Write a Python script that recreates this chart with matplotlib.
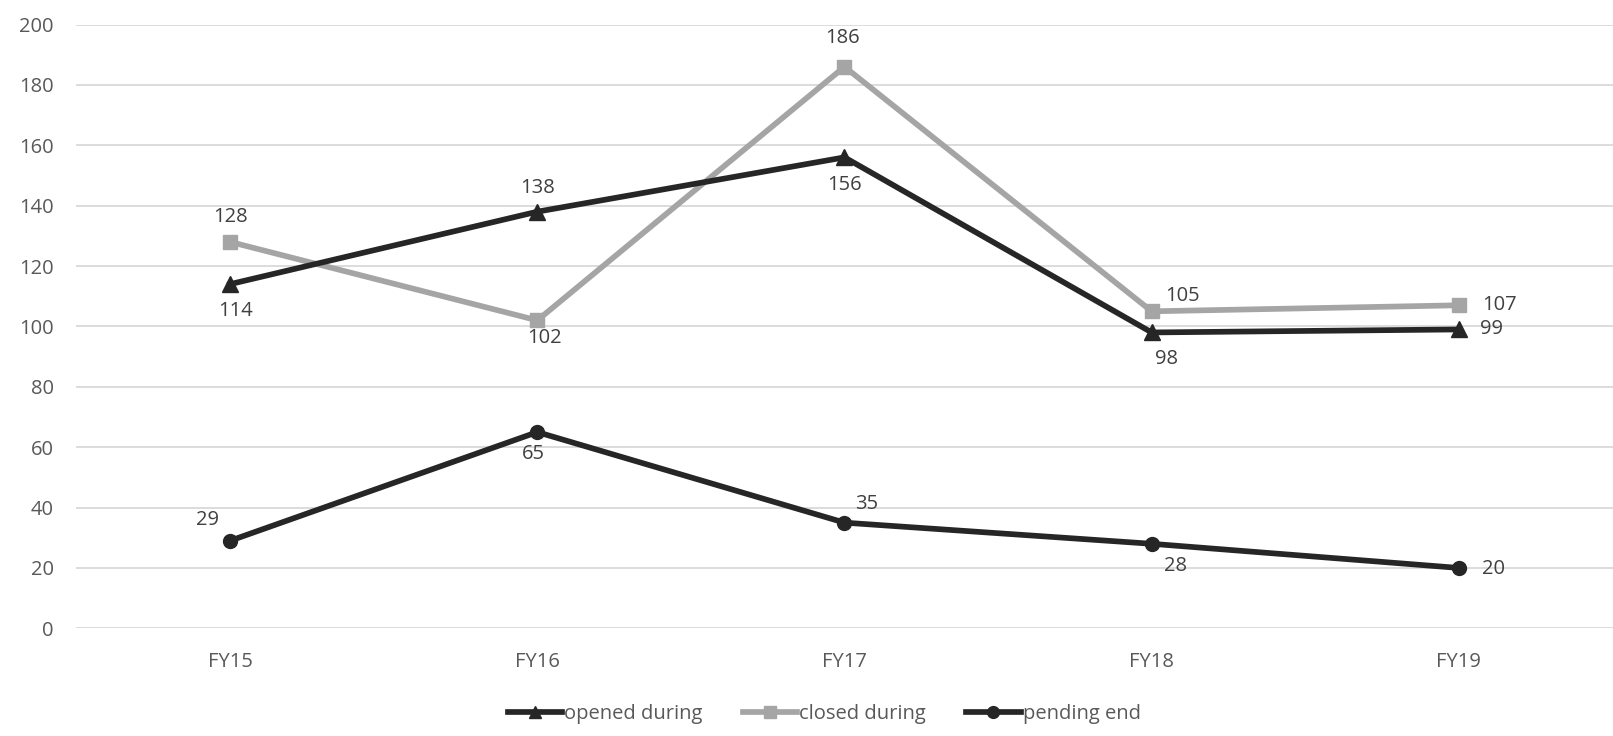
import matplotlib
matplotlib.use("Agg")
import matplotlib.pyplot as plt

years = ["FY15", "FY16", "FY17", "FY18", "FY19"]
opened = [114, 138, 156, 98, 99]
closed = [128, 102, 186, 105, 107]
pending = [29, 65, 35, 28, 20]
yticks = [0, 20, 40, 60, 80, 100, 120, 140, 160, 180, 200]

# label offsets in pixels (dx, dy) with dy positive up
opened_off = [(5, -27), (0, 24), (0, -28), (15, -27), (33, 0)]
closed_off = [(0, 25), (7, -18), (-2, 29), (31, 15), (41, 0)]
pending_off = [(-23, 21), (-4, -22), (22, 19), (24, -22), (35, -1)]

plt.rcParams['font.family'] = ['Open Sans', 'DejaVu Sans']

fig = plt.figure(figsize=(16.13, 7.36), dpi=100)
ax = fig.add_axes([0.0474, 0.1463, 0.9523, 0.8204])

x = list(range(len(years)))
dark = "#262626"
gray = "#a5a5a5"
lw = 4.1
ax.plot(x, opened, color=dark, lw=lw, marker="^", ms=11, label="opened during", zorder=3)
ax.plot(x, closed, color=gray, lw=lw, marker="s", ms=10, label="closed during", zorder=2)
ax.plot(x, pending, color=dark, lw=lw, marker="o", ms=10, label="pending end", zorder=3)

for vals, offs in [(opened, opened_off), (closed, closed_off), (pending, pending_off)]:
    for xi, v, (dx, dy) in zip(x, vals, offs):
        ax.annotate(str(v), (xi, v), xytext=(dx, dy), textcoords="offset pixels",
                    ha="center", va="center", fontsize=14.5, color="#404040")

ax.set_xlim(-0.5, 4.5)
ax.set_ylim(0, 200)
ax.set_yticks(yticks)
ax.set_xticks(x)
ax.set_xticklabels(years)
ax.grid(axis="y", color="#d9d9d9", lw=1.3)
ax.set_axisbelow(True)
for s in ax.spines.values():
    s.set_visible(False)
ax.tick_params(axis="both", length=0, labelsize=14.5, labelcolor="#595959")
ax.tick_params(axis="y", pad=16.5)
ax.tick_params(axis="x", pad=17)

fig.legend(loc="center", bbox_to_anchor=(0.511, 0.03), ncol=3, frameon=False,
           fontsize=14.5, handlelength=2.7, handletextpad=0.1, columnspacing=2.0,
           labelcolor="#595959", markerscale=0.85)

fig.savefig("out.png", dpi=100)
